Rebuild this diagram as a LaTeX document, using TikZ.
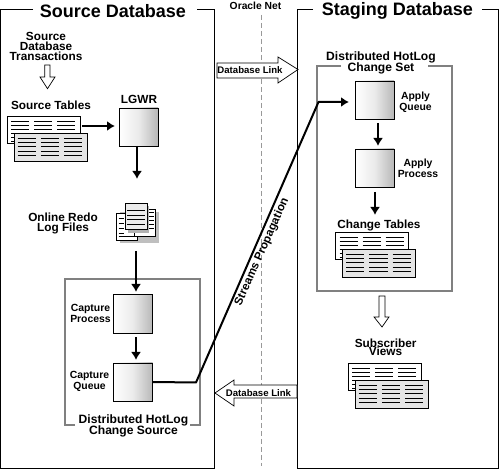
\documentclass[tikz,border=0pt]{standalone}
\usepackage{fontspec}
\setmainfont{Liberation Sans}
\usetikzlibrary{arrows.meta}
\tikzset{
 x=1pt,y=-1pt,
 every node/.style={execute at begin node={\lineskiplimit=-100pt\relax}},
 title/.style={font=\fontsize{18}{18}\selectfont\bfseries,inner sep=0pt},
 lab/.style={font=\fontsize{11.8}{10}\selectfont\bfseries,align=center,inner sep=0pt},
 biglab/.style={font=\fontsize{12.1}{10.5}\selectfont\bfseries,align=center,inner sep=0pt},
 sublab/.style={font=\fontsize{11.8}{8}\selectfont\bfseries,align=center,inner sep=0pt},
 midlab/.style={font=\fontsize{10.4}{11}\selectfont\bfseries,align=center,inner sep=0pt},
 strlab/.style={font=\fontsize{11.6}{12}\selectfont\bfseries,inner sep=0pt},
 small/.style={font=\fontsize{9.6}{10}\selectfont\bfseries,align=center,inner sep=0pt},
 frame/.style={draw=black,line width=1pt},
 grayframe/.style={draw=black!50,line width=1.6pt},
 flow/.style={draw=black,line width=2pt,-{Latex[length=8pt,width=10pt]}},
 hollow/.style={draw=black,fill=white,line width=0.7pt},
 proc/.style={draw=black,line width=0.8pt,left color=white,right color=black!28,middle color=black!8,minimum width=39pt,minimum height=38pt,inner sep=0pt},
}
\newcommand{\tablepair}[2]{%
 \begin{scope}[shift={(#1,#2)}]
 \draw[fill=white,line width=.7pt] (0,0) rectangle (73,27);
 \foreach \c in {4,27,50}{\foreach \r in {5,9,13,17,21,25}{\draw[line width=.6pt] (\c,\r) -- ++(18,0);}}
 \draw[fill=black!10,line width=.7pt] (7,17) rectangle (80,45);
 \foreach \c in {10.5,33.8,57}{\foreach \r in {22,26.4,30.8,35.2,39.6}{\draw[line width=.6pt] (\c,\r) -- ++(18.3,0);}}
 \end{scope}}
\begin{document}
\begin{tikzpicture}
\useasboundingbox (0,0) rectangle (499,470);
% frames
\coordinate (sa) at (33,10); \coordinate (sb) at (197,10);
\draw[frame] (sa) -- (0.5,10) -- (0.5,468.5) -- (214,468.5) -- (214,10) -- (sb);
\coordinate (ta) at (313,10); \coordinate (tb) at (482,10);
\draw[frame] (ta) -- (297.5,10) -- (297.5,468.5) -- (498,468.5) -- (498,10) -- (tb);
\node[title] (srcdb) at (113,11) {Source Database};
\node[title] (stgdb) at (397.5,11) {Staging Database};
% oracle net
\node[font=\fontsize{10.3}{10}\selectfont\bfseries,inner sep=0pt] (onet) at (255.5,6) {Oracle Net};
\coordinate (na) at (261.3,15); \coordinate (nb) at (261.3,466);
\draw[black!40,line width=.6pt,dash pattern=on 5pt off 3pt] (na) -- (nb);
% gray frames
\draw[grayframe] (75,425) -- (65,425) -- (65,279) -- (200,279) -- (200,425) -- (190,425);
\draw[grayframe] (341,66) -- (317,66) -- (317,291) -- (452,291) -- (452,66) -- (428,66);
% left labels
\node[lab] (sdt) at (46,46) {Source\\Database\\Transactions};
\draw[hollow] (44.7,65) -- (50,65) -- (50,77) -- (55,77) -- (47.5,88.7) -- (40,77) -- (44.7,77) -- cycle;
\node[lab] (stl) at (51,105) {Source Tables};
\tablepair{7}{116}
\node[proc] (lgwr) at (138.5,127) {};
\node[lab] (lgl) at (139,99) {LGWR};
\coordinate (t1) at (82,126);
\draw[flow] (t1) -- (115,126);
\coordinate (l1) at (137,179);
\draw[flow] (137,146) -- (l1);
\node[lab] (orl) at (63,223) {Online Redo\\Log Files};
% doc icon
\fill[black!25] (120,212) rectangle (159,243);
\draw[fill=white,line width=.7pt] (116.7,213) rectangle (137.7,240.5);
\draw[fill=white,line width=.7pt] (134,209) rectangle (155.7,236);
\foreach \r in {218,223,228,233}{\draw[line width=.5pt] (118.5,\r)--(123.5,\r);}
\draw[line width=.5pt] (118.5,236)--(136,236);
\foreach \r in {212,216,220,224,228}{\draw[line width=.5pt] (148,\r)--(154,\r);}
\fill[black!30] (128,206) rectangle (149,233);
\draw[fill=black!8,line width=.7pt] (125,203) rectangle (147,229);
\foreach \r in {210.5,215,219.5,224}{\draw[line width=.5pt] (127,\r)--(145,\r);}
% capture
\node[proc,minimum height=39.5pt] (cp) at (133,314) {};
\node[proc] (cq) at (133,382) {};
\node[midlab] (cpl) at (90.5,313) {Capture\\Process};
\node[midlab] (cql) at (89.5,381.5) {Capture\\Queue};
\coordinate (c0) at (136,251);
\draw[flow] (c0) -- (136,292);
\draw[flow] (136,337) -- (136,360);
\node[biglab] (dhl) at (133.5,426) {Distributed HotLog\\Change Source};
% staging
\node[biglab] (dhs) at (381,63) {Distributed HotLog\\Change Set};
\node[proc] (aq) at (374.5,100) {};
\node[proc] (ap) at (374.5,168) {};
\node[midlab] (aql) at (415.5,102.5) {Apply\\Queue};
\node[midlab] (apl) at (418,168) {Apply\\Process};
\draw[flow] (378,123) -- (378,146);
\draw[flow] (375,192) -- (375,215);
\node[lab] (ctl) at (379,225) {Change Tables};
\tablepair{335.5}{232}
\draw[hollow] (379,296) -- (385,296) -- (385,317) -- (389,317) -- (382,327) -- (374,317) -- (379,317) -- cycle;
\node[sublab] (svl) at (385.6,347.5) {Subscriber\\Views};
\tablepair{348}{363}
% streams
\coordinate (s1) at (196,382.5);
\coordinate (s2) at (318.5,102);
\coordinate (s3) at (349,102);
\draw[flow,line join=round] (cq.east) -- (s1) -- (s2) -- (s3);
\node[strlab,rotate=66] (spr) at (262,252) {Streams Propagation};
% db links
\draw[hollow] (217,63) -- (278,63) -- (278,57) -- (298,69.5) -- (278,83) -- (278,78) -- (217,78) -- cycle;
\node[small] (dl1) at (250,70.5) {Database Link};
\draw[hollow] (297,385) -- (234,385) -- (234,380) -- (215,393) -- (234,406) -- (234,398) -- (297,398) -- cycle;
\node[small] (dl2) at (258.5,393) {Database Link};
\end{tikzpicture}
\end{document}
